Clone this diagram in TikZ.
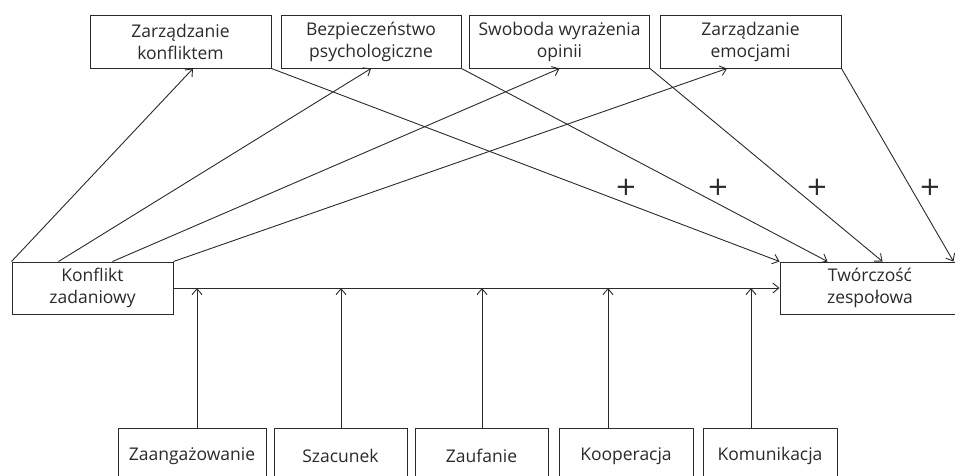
\documentclass[tikz,border=0pt]{standalone}
\usepackage{fontspec}
\setmainfont{Open Sans}
\newfontfamily\plusfont{DejaVu Sans}
\usetikzlibrary{arrows.meta}
\definecolor{ink}{HTML}{2A2A2A}
\begin{document}
\begin{tikzpicture}[x=1pt,y=-1pt,
  box/.style={draw=ink, line width=1pt, inner sep=0pt, align=center, text=ink,
    font=\fontsize{17.5}{22}\selectfont},
  arr/.style={draw=ink, line width=0.9pt, -{Straight Barb[length=6pt,width=10pt]}},
  plus/.style={text=ink, font=\plusfont\fontsize{26}{26}\selectfont, inner sep=0pt}]
\useasboundingbox (0,0) rectangle (955,475);
\clip (0,0) rectangle (955,475);
% top boxes
\node[box, minimum width=181, minimum height=53] (t1) at (180.5,41.5) {Zarządzanie\\konfliktem};
\node[box, minimum width=180, minimum height=53] (t2) at (371,41.5) {Bezpieczeństwo\\psychologiczne};
\node[box, minimum width=180, minimum height=53] (t3) at (559.5,41.5) {Swoboda wyrażenia\\opinii};
\node[box, minimum width=181, minimum height=53] (t4) at (750.5,41.5) {Zarządzanie\\emocjami};
% middle boxes
\node[box, minimum width=161, minimum height=52] (kz) at (92.5,288) {Konflikt\\zadaniowy};
\node[box, minimum width=180, minimum height=52] (tw) at (870,288) {Twórczość\\zespołowa};
% bottom boxes
\node[box, minimum width=148, minimum height=56] (b1) at (192,456) {Zaangażowanie};
\node[box, minimum width=133, minimum height=56] (b2) at (340.5,456) {Szacunek};
\node[box, minimum width=133, minimum height=56] (b3) at (481.5,456) {Zaufanie};
\node[box, minimum width=134, minimum height=56] (b4) at (626,456) {Kooperacja};
\node[box, minimum width=134, minimum height=56] (b5) at (770,456) {Komunikacja};
% arrows from Konflikt to top boxes
\draw[arr] (kz.north west) -- ([xshift=12.5pt]t1.south);
\draw[arr] ([xshift=47pt]kz.north west) -- (t2.south);
\draw[arr] ([xshift=101pt]kz.north west) -- (t3.south);
\draw[arr] (kz.north east) -- ([xshift=-23.5pt]t4.south);
% arrows from top boxes to Tworczosc
\draw[arr] (t1.south east) -- (tw.north west);
\draw[arr] (t2.south east) -- ([xshift=48pt]tw.north west);
\draw[arr] (t3.south east) -- ([xshift=103pt]tw.north west);
\draw[arr] (t4.south east) -- ([xshift=174pt]tw.north west);
% main arrow
\draw[arr] (kz.east) -- (tw.west);
% vertical arrows
\draw[arr] ([xshift=5pt]b1.north) -- ++(0,-139.5);
\draw[arr] ([xshift=0.5pt]b2.north) -- ++(0,-139.5);
\draw[arr] ([xshift=0.5pt]b3.north) -- ++(0,-139.5);
\draw[arr] ([xshift=-18pt]b4.north) -- ++(0,-139.5);
\draw[arr] ([xshift=-19pt]b5.north) -- ++(0,-139.5);
% plus signs
\node[plus] (p1) at (626,187) {+};
\node[plus] (p2) at (718,187) {+};
\node[plus] (p3) at (817,187) {+};
\node[plus] (p4) at (930,187) {+};
\end{tikzpicture}
\end{document}
